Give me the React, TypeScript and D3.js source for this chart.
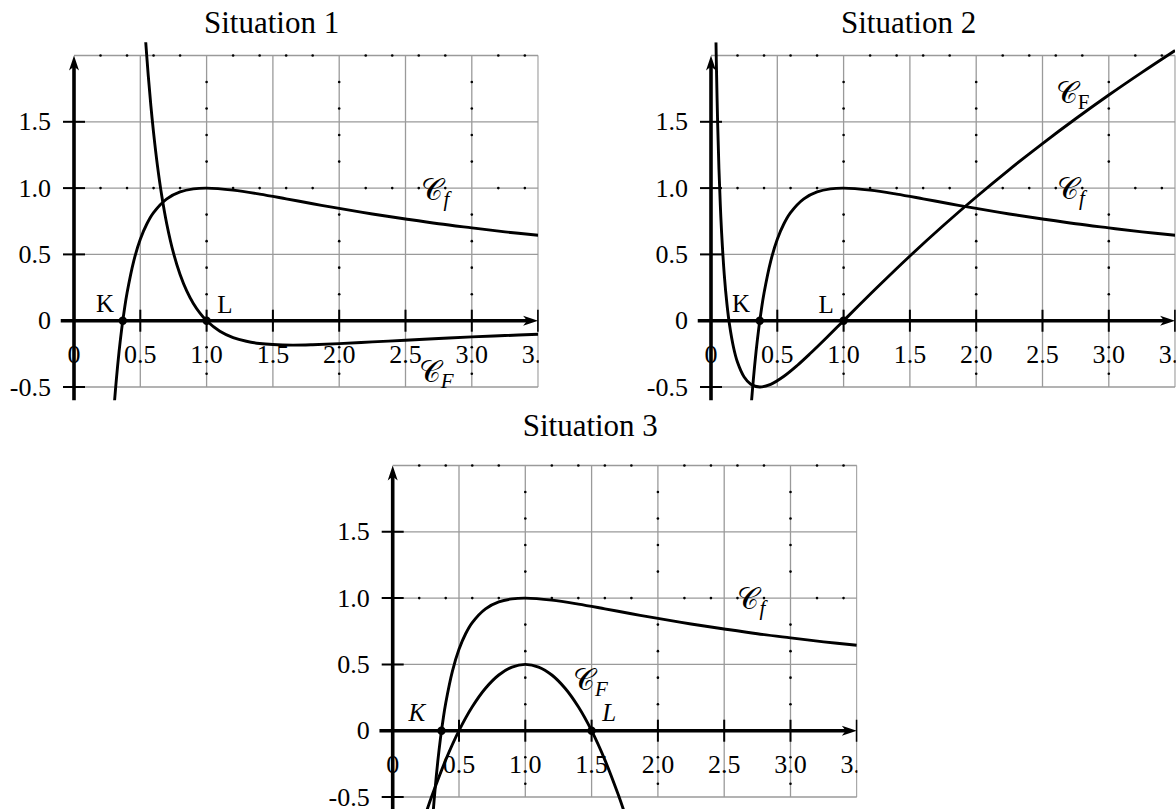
import React from "react";
import * as d3 from "d3";

// unit length in pixels (same on both axes)
const U = 132.6;

const titles = ["Situation 1", "Situation 2", "Situation 3"];
const xTicks = [0.5, 1, 1.5, 2, 2.5, 3, 3.5];
const xTickLabels = ["0.5", "1.0", "1.5", "2.0", "2.5", "3.0", "3.5"];
const yTicks = [-0.5, 0.5, 1, 1.5];
const yTickLabels = ["-0.5", "0.5", "1.0", "1.5"];
const gridX = [0.5, 1, 1.5, 2, 2.5, 3, 3.5];
const gridY = [-0.5, 0.5, 1, 1.5, 2];
const dotLinesX = [1, 2, 3];
const dotLinesY = [1, 2];
const dotSteps = [-0.4, -0.2, 0.2, 0.4, 0.6, 0.8, 1.2, 1.4, 1.6, 1.8, 2.2, 2.4, 2.6, 2.8, 3.2, 3.4];

// C_f, same in the three situations
const curveF: [number, number][] = [
  [0.305, -0.614], [0.32, -0.436], [0.34, -0.232], [0.36, -0.06], [0.38, 0.085],
  [0.4, 0.209], [0.45, 0.448], [0.5, 0.614], [0.55, 0.731], [0.6, 0.815],
  [0.7, 0.919], [0.8, 0.971], [0.9, 0.994], [1.0, 1.0], [1.2, 0.985],
  [1.4, 0.955], [1.6, 0.919], [1.8, 0.882], [2.0, 0.847], [2.25, 0.805],
  [2.5, 0.767], [2.75, 0.731], [3.0, 0.7], [3.25, 0.67], [3.5, 0.644],
];

// C_F, situation 1
const curveS1: [number, number][] = [
  [0.54, 2.113], [0.56, 1.849], [0.58, 1.619], [0.6, 1.419], [0.63, 1.164],
  [0.66, 0.954], [0.7, 0.728], [0.75, 0.511], [0.8, 0.349], [0.85, 0.225],
  [0.9, 0.13], [0.95, 0.057], [1.0, 0], [1.1, -0.079], [1.2, -0.127],
  [1.3, -0.155], [1.4, -0.172], [1.5, -0.18], [1.65, -0.184], [1.8, -0.181],
  [2.0, -0.173], [2.25, -0.16], [2.5, -0.147], [2.75, -0.134], [3.0, -0.122],
  [3.25, -0.112], [3.5, -0.102],
];

// C_F, situation 2
const curveS2: [number, number][] = [
  [0.0376, 2.1], [0.04, 1.962], [0.05, 1.492], [0.06, 1.144], [0.07, 0.877],
  [0.08, 0.664], [0.1, 0.348], [0.12, 0.128], [0.14, -0.033], [0.17, -0.202],
  [0.2, -0.314], [0.25, -0.425], [0.3, -0.479], [0.368, -0.5], [0.45, -0.48],
  [0.55, -0.419], [0.65, -0.338], [0.75, -0.246], [0.875, -0.125], [1.0, 0],
  [1.25, 0.248], [1.5, 0.488], [1.75, 0.716], [2.0, 0.933], [2.25, 1.14],
  [2.5, 1.336], [2.75, 1.523], [3.0, 1.702], [3.25, 1.873], [3.5, 2.038],
];

// C_F, situation 3
const curveS3: [number, number][] = [
  [0.258, -0.6], [0.3, -0.48], [0.4, -0.22], [0.5, 0], [0.6, 0.18], [0.7, 0.32],
  [0.8, 0.42], [0.9, 0.48], [1.0, 0.5], [1.1, 0.48], [1.2, 0.42], [1.3, 0.32],
  [1.4, 0.18], [1.5, 0], [1.6, -0.22], [1.7, -0.48], [1.742, -0.6],
];

const pointsS12 = [0.3679, 1.0];
const pointsS3 = [0.3679, 1.5];

const serif = "'Liberation Serif', 'Times New Roman', serif";
const scriptC = "\u{1D49E}";

type Lab = { x: number; y: number; sub: string; subItalic: boolean };

type PanelProps = {
  id: string;
  ox: number;
  oy: number;
  title: string;
  titleY: number;
  curves: [number, number][][];
  points: number[];
  kl: { x: number; y: number }[];
  klItalic: boolean;
  labels: Lab[];
};

function Panel({ id, ox, oy, title, titleY, curves, points, kl, klItalic, labels }: PanelProps) {
  const x = d3.scaleLinear().domain([0, 3.5]).range([ox, ox + 3.5 * U]);
  const y = d3.scaleLinear().domain([0, 2]).range([oy, oy - 2 * U]);
  const line = d3
    .line<[number, number]>()
    .x((d) => x(d[0]))
    .y((d) => y(d[1]))
    .curve(d3.curveCatmullRom.alpha(0.5));

  const right = x(3.5);
  const top = y(2);
  const bottom = y(-0.6);

  return (
    <g>
      <defs>
        <clipPath id={`${id}-all`}>
          <rect x={ox - 90} y={0} width={right - ox + 90 + 0.6} height={809} />
        </clipPath>
        <clipPath id={`${id}-plot`}>
          <rect x={ox} y={y(2.1)} width={right - ox} height={y(-0.6) - y(2.1)} />
        </clipPath>
      </defs>
      <text x={x(1.49)} y={titleY} textAnchor="middle" fontFamily={serif} fontSize={31}>
        {title}
      </text>
      <g clipPath={`url(#${id}-all)`}>
        {/* grid */}
        {gridX.map((v) => (
          <line key={`gx${v}`} x1={x(v)} x2={x(v)} y1={y(-0.5)} y2={top} stroke="#9a9a9a" strokeWidth={1.3} />
        ))}
        {gridY.map((v) => (
          <line key={`gy${v}`} x1={x(0)} x2={right} y1={y(v)} y2={y(v)} stroke="#9a9a9a" strokeWidth={1.3} />
        ))}
        {dotLinesX.map((v) =>
          dotSteps
            .filter((s) => s < 2)
            .map((s) => <circle key={`dx${v}_${s}`} cx={x(v)} cy={y(s)} r={1.3} fill="#000" />)
        )}
        {dotLinesY.map((v) =>
          dotSteps
            .filter((s) => s > 0)
            .map((s) => <circle key={`dy${v}_${s}`} cx={x(s)} cy={y(v)} r={1.3} fill="#000" />)
        )}
        {/* tick labels */}
        <text x={x(0)} y={oy + 42} textAnchor="middle" fontFamily={serif} fontSize={26}>
          0
        </text>
        {xTicks.map((v, i) => (
          <text key={`xl${v}`} x={x(v)} y={oy + 42} textAnchor="middle" fontFamily={serif} fontSize={26}>
            {xTickLabels[i]}
          </text>
        ))}
        <text x={ox - 23} y={oy + 8.5} textAnchor="end" fontFamily={serif} fontSize={26}>
          0
        </text>
        {yTicks.map((v, i) => (
          <text key={`yl${v}`} x={ox - 23} y={y(v) + 8.5} textAnchor="end" fontFamily={serif} fontSize={26}>
            {yTickLabels[i]}
          </text>
        ))}
        {/* axes */}
        <line x1={x(-0.1)} x2={right - 8} y1={oy} y2={oy} stroke="#000" strokeWidth={3.6} />
        <path d={`M${right},${oy} L${right - 15},${oy - 5} L${right - 11},${oy} L${right - 15},${oy + 5} Z`} fill="#000" />
        <line x1={ox} x2={ox} y1={bottom} y2={top + 8} stroke="#000" strokeWidth={3.6} />
        <path d={`M${ox},${top} L${ox - 5},${top + 15} L${ox},${top + 11} L${ox + 5},${top + 15} Z`} fill="#000" />
        {xTicks.map((v) => (
          <line key={`xt${v}`} x1={x(v)} x2={x(v)} y1={oy - 11} y2={oy + 11} stroke="#000" strokeWidth={2} />
        ))}
        {yTicks.map((v) => (
          <line key={`yt${v}`} x1={ox - 11} x2={ox + 11} y1={y(v)} y2={y(v)} stroke="#000" strokeWidth={2} />
        ))}
        {/* curves */}
        <g clipPath={`url(#${id}-plot)`}>
          {curves.map((c, i) => (
            <path key={`c${i}`} d={line(c) || ""} fill="none" stroke="#000" strokeWidth={2.9} />
          ))}
        </g>
        {points.map((p) => (
          <circle key={`p${p}`} cx={x(p)} cy={y(0)} r={4.2} fill="#000" />
        ))}
        {kl.map((p, i) => (
          <text
            key={`kl${i}`}
            x={x(p.x)}
            y={y(p.y)}
            fontFamily={serif}
            fontSize={25}
            fontStyle={klItalic ? "italic" : "normal"}
          >
            {i === 0 ? "K" : "L"}
          </text>
        ))}
        {labels.map((l, i) => (
          <text key={`lab${i}`} x={x(l.x)} y={y(l.y)} fontFamily={serif} fontSize={30}>
            <tspan fontFamily="'DejaVu Sans', 'Noto Sans', serif">{scriptC}</tspan>
            <tspan dy={6} fontSize={21} fontFamily={serif} fontStyle={l.subItalic ? "italic" : "normal"}>
              {l.sub}
            </tspan>
          </text>
        ))}
      </g>
    </g>
  );
}

export default function App() {
  return (
    <svg
      width={1176}
      height={809}
      style={{ position: "absolute", left: 0, top: 0, background: "#fff" }}
    >
      <Panel
        id="s1"
        ox={74}
        oy={320.7}
        title={titles[0]}
        titleY={33}
        curves={[curveF, curveS1]}
        points={pointsS12}
        kl={[{ x: 0.166, y: 0.066 }, { x: 1.08, y: 0.06 }]}
        klItalic={false}
        labels={[
          { x: 2.62, y: 0.91, sub: "f", subItalic: true },
          { x: 2.6, y: -0.46, sub: "F", subItalic: true },
        ]}
      />
      <Panel
        id="s2"
        ox={711}
        oy={320.7}
        title={titles[1]}
        titleY={33}
        curves={[curveF, curveS2]}
        points={pointsS12}
        kl={[{ x: 0.158, y: 0.066 }, { x: 0.81, y: 0.06 }]}
        klItalic={false}
        labels={[
          { x: 2.6, y: 1.64, sub: "F", subItalic: false },
          { x: 2.61, y: 0.92, sub: "f", subItalic: true },
        ]}
      />
      <Panel
        id="s3"
        ox={392.7}
        oy={730.7}
        title={titles[2]}
        titleY={436}
        curves={[curveF, curveS3]}
        points={pointsS3}
        kl={[{ x: 0.12, y: 0.073 }, { x: 1.58, y: 0.073 }]}
        klItalic={true}
        labels={[
          { x: 2.6, y: 0.92, sub: "f", subItalic: true },
          { x: 1.36, y: 0.31, sub: "F", subItalic: true },
        ]}
      />
    </svg>
  );
}
